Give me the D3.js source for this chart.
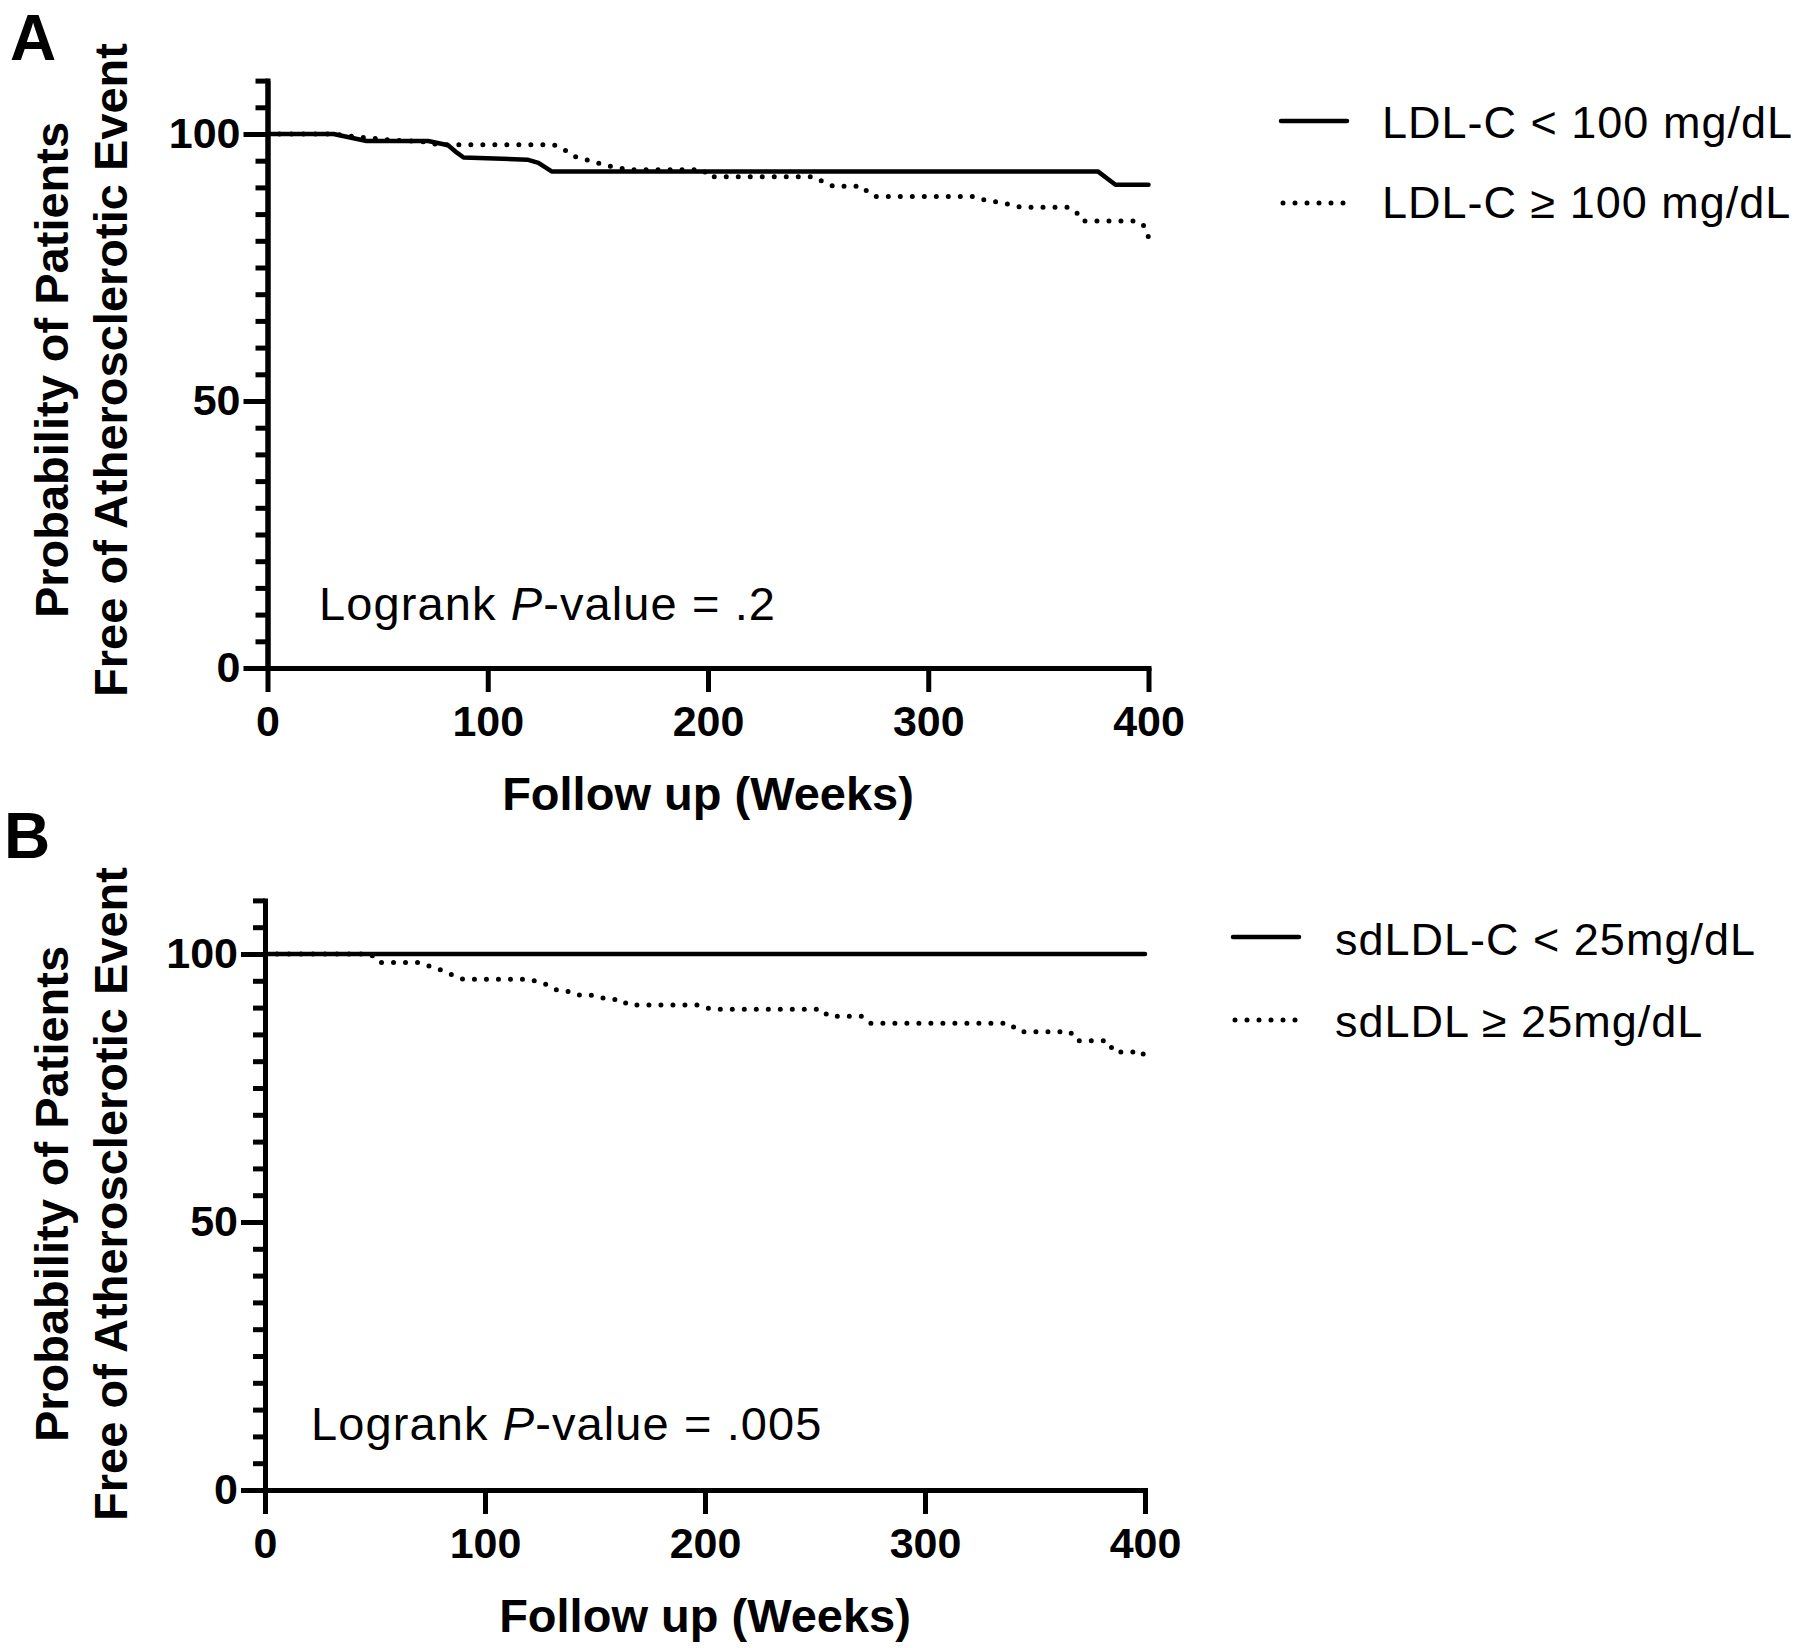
<!DOCTYPE html>
<html><head><meta charset="utf-8">
<script src="https://cdn.jsdelivr.net/npm/d3@7/dist/d3.min.js"></script>
<style>
body{margin:0;background:#fff}
svg{display:block}
text{font-family:"Liberation Sans",Arial,Helvetica,sans-serif;fill:#000}
</style>
</head><body>
<svg id="chart" width="1800" height="1648"></svg>
<script>
// ---------- data ----------
const xTicks = [0, 100, 200, 300, 400];
const yMajorTicks = [0, 50, 100];
const yMinorTicks = [0, 5, 10, 15, 20, 25, 30, 35, 40, 45, 50, 55, 60, 65, 70, 75, 80, 85, 90, 95, 100, 105, 110];
const yAxisTitle = ["Probability of Patients", "Free of Atherosclerotic Event"];
const xAxisTitle = "Follow up (Weeks)";
const panelLetters = ["A", "B"];
const pValues = [".2", ".005"];

// Panel A: LDL-C < 100 mg/dL (solid)
const aLowWeeks = [0, 30, 38, 45, 73, 82, 86, 89, 118, 123, 129, 377, 385, 400];
const aLowSurv  = [100, 100, 99.3, 98.7, 98.7, 97.9, 96.5, 95.6, 95.2, 94.6, 93.0, 93.0, 90.5, 90.5];
// Panel A: LDL-C >= 100 mg/dL (dotted)
const aHighWeeks = [0, 30, 38, 45, 55, 70, 78, 130, 135, 140, 148, 155, 160, 165, 198, 200, 248, 252, 257, 270, 273, 276, 321, 326, 332, 337, 342, 363, 367, 370, 395, 398, 400];
const aHighSurv  = [100, 100, 99.6, 99.3, 98.9, 98.6, 98.0, 98.0, 97.0, 95.7, 94.8, 94.0, 93.6, 93.3, 93.3, 92.0, 92.0, 91.1, 90.2, 90.2, 88.9, 88.3, 88.3, 87.6, 87.2, 86.8, 86.3, 86.3, 85.5, 83.7, 83.7, 82.8, 80.7];
const aLegend = ["LDL-C < 100 mg/dL", "LDL-C \u2265 100 mg/dL"];

// Panel B: sdLDL-C < 25 mg/dL (solid)
const bLowWeeks = [0, 400];
const bLowSurv  = [100, 100];
// Panel B: sdLDL >= 25 mg/dL (dotted)
const bHighWeeks = [0, 48, 52, 70, 75, 80, 85, 90, 120, 125, 130, 133, 138, 142, 148, 152, 157, 162, 165, 197, 201, 205, 253, 256, 271, 275, 338, 343, 366, 369, 383, 386, 399, 400];
const bHighSurv  = [100, 100, 98.4, 98.4, 97.7, 97.0, 96.1, 95.3, 95.3, 94.7, 94.0, 93.2, 93.0, 92.35, 92.35, 91.9, 91.5, 91.5, 90.5, 90.5, 89.9, 89.7, 89.7, 88.4, 88.4, 87.1, 87.1, 85.5, 85.5, 83.8, 83.8, 81.7, 81.7, 79.5];
const bLegend = ["sdLDL-C < 25mg/dL", "sdLDL \u2265 25mg/dL"];

// ---------- layout ----------
const panels = [
  { letter: panelLetters[0], letterX: 10, letterY: 60,
    x0: 267.5, x1: 1148.5, y0: 668, ppu: 5.34,
    low: d3.zip(aLowWeeks, aLowSurv), high: d3.zip(aHighWeeks, aHighSurv),
    legend: aLegend, legLineX: 1281, legTextX: 1382, legY: [121, 203], legBase: [138, 218],
    p: pValues[0], pX: 319, pY: 620, titleCY: 370 },
  { letter: panelLetters[1], letterX: 4, letterY: 858,
    x0: 265, x1: 1145, y0: 1490, ppu: 5.36,
    low: d3.zip(bLowWeeks, bLowSurv), high: d3.zip(bHighWeeks, bHighSurv),
    legend: bLegend, legLineX: 1233, legTextX: 1335, legY: [937, 1020], legBase: [955, 1037],
    p: pValues[1], pX: 311, pY: 1440, titleCY: 1194 }
];

const svg = d3.select("#chart");
const AXW = 5, LW = 4.5, DOTW = 5;

panels.forEach(p => {
  const g = svg.append("g");
  const x = d3.scaleLinear().domain([0, 400]).range([p.x0, p.x1]);
  const y = d3.scaleLinear().domain([0, 110]).range([p.y0, p.y0 - 110 * p.ppu]);

  // panel letter
  g.append("text").attr("x", p.letterX).attr("y", p.letterY)
    .attr("font-size", 64).attr("font-weight", "bold").text(p.letter);

  // y axis minor ticks
  const yMinor = g.append("g").attr("transform", `translate(${p.x0},0)`)
    .call(d3.axisLeft(y).tickValues(yMinorTicks).tickSize(12).tickSizeOuter(0).tickFormat(""));
  // y axis major ticks
  const yMajor = g.append("g").attr("transform", `translate(${p.x0},0)`)
    .call(d3.axisLeft(y).tickValues(yMajorTicks).tickSize(24).tickPadding(3).tickSizeOuter(0));
  // x axis
  const xAx = g.append("g").attr("transform", `translate(0,${p.y0})`)
    .call(d3.axisBottom(x).tickValues(xTicks).tickSize(24).tickPadding(13.5).tickSizeOuter(0));

  [yMinor, yMajor, xAx].forEach(a => {
    a.attr("font-family", null).attr("font-size", null);
    a.selectAll("path,line").attr("stroke", "#000").attr("stroke-width", AXW);
    a.selectAll("text").attr("font-size", 43).attr("font-weight", "bold").attr("fill", "#000");
  });
  xAx.select(".domain").attr("stroke-linecap", "square");
  yMajor.select(".domain").attr("stroke-linecap", "square");

  // axis titles
  g.append("text").attr("x", x(200)).attr("y", p.y0 + 142)
    .attr("text-anchor", "middle").attr("font-size", 47).attr("font-weight", "bold")
    .text(xAxisTitle);
  const tt = g.append("g").attr("transform", `translate(0,${p.titleCY}) rotate(-90)`);
  tt.append("text").attr("x", 0).attr("y", 68).attr("text-anchor", "middle")
    .attr("font-size", 47).attr("font-weight", "bold").text(yAxisTitle[0]);
  tt.append("text").attr("x", 0).attr("y", 127).attr("text-anchor", "middle")
    .attr("font-size", 47).attr("font-weight", "bold").text(yAxisTitle[1]);

  // curves
  const line = d3.line().x(d => x(d[0])).y(d => y(d[1]));
  g.append("path").datum(p.high).attr("d", line)
    .attr("fill", "none").attr("stroke", "#000").attr("stroke-width", DOTW)
    .attr("stroke-dasharray", "0 12").attr("stroke-linecap", "round");
  g.append("path").datum(p.low).attr("d", line)
    .attr("fill", "none").attr("stroke", "#000").attr("stroke-width", LW)
    .attr("stroke-linejoin", "round").attr("stroke-linecap", "round");

  // p-value annotation
  const pt = g.append("text").attr("x", p.pX).attr("y", p.pY)
    .attr("font-size", 47).attr("letter-spacing", 1.1);
  pt.append("tspan").text("Logrank ");
  pt.append("tspan").attr("font-style", "italic").text("P");
  pt.append("tspan").text("-value = " + p.p);

  // legend
  const leg = g.append("g");
  leg.append("line").attr("x1", p.legLineX).attr("x2", p.legLineX + 66)
    .attr("y1", p.legY[0]).attr("y2", p.legY[0])
    .attr("stroke", "#000").attr("stroke-width", LW).attr("stroke-linecap", "round");
  leg.append("line").attr("x1", p.legLineX + 2).attr("x2", p.legLineX + 64)
    .attr("y1", p.legY[1]).attr("y2", p.legY[1])
    .attr("stroke", "#000").attr("stroke-width", DOTW).attr("stroke-linecap", "round")
    .attr("stroke-dasharray", "0 12");
  p.legend.forEach((t, i) => {
    leg.append("text").attr("x", p.legTextX).attr("y", p.legBase[i])
      .attr("font-size", 45).attr("letter-spacing", 1).text(t);
  });
});
</script>
</body></html>
